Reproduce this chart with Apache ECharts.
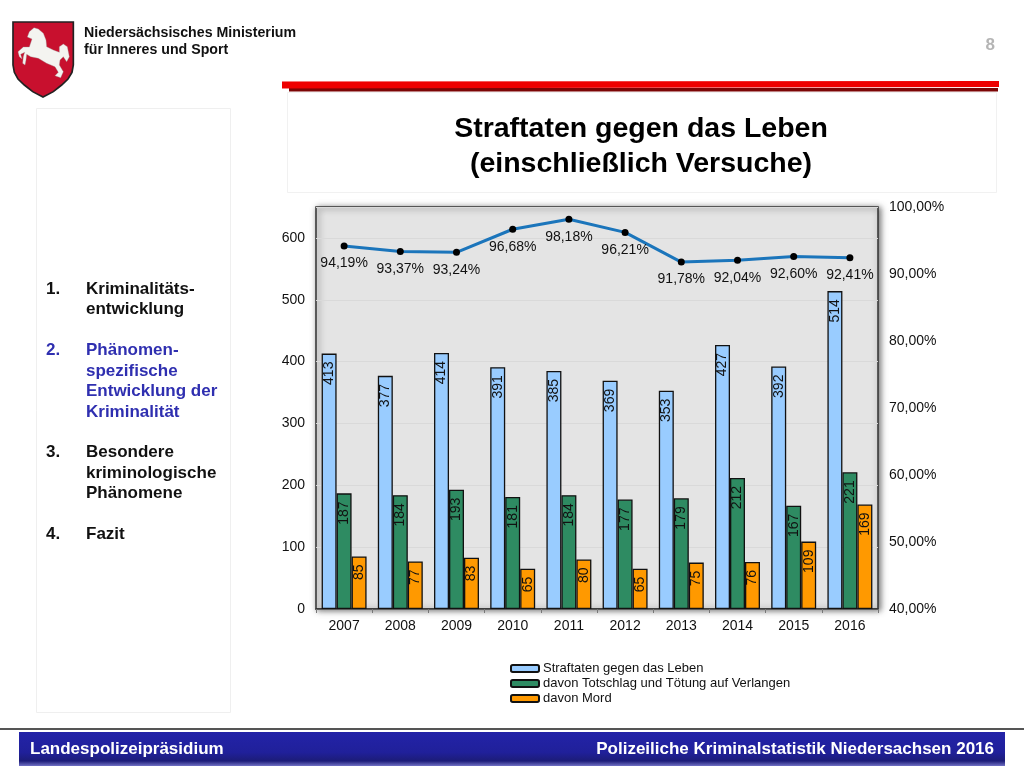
<!DOCTYPE html>
<html><head><meta charset="utf-8">
<style>html,body{margin:0;padding:0;background:#fff}#c{width:1024px;height:768px}</style>
<script src="https://cdn.jsdelivr.net/npm/echarts@6/dist/echarts.min.js"></script>
</head><body><div id="c"></div>
<script>
const years=['2007','2008','2009','2010','2011','2012','2013','2014','2015','2016'];
const leben=[413,377,414,391,385,369,353,427,392,514];
const totschlag=[187,184,193,181,184,177,179,212,167,221];
const mord=[85,77,83,65,80,65,75,76,109,169];
const quote=[94.19,93.37,93.24,96.68,98.18,96.21,91.78,92.04,92.60,92.41];
const seriesNames=['Straftaten gegen das Leben','davon Totschlag und Tötung auf Verlangen','davon Mord'];
const F='"Liberation Sans", Arial, sans-serif';
const pct=v=>v.toFixed(2).replace('.',',')+'%';
const bar=(name,data,color)=>({name,type:'bar',data,yAxisIndex:0,barGap:0,barCategoryGap:'20%',
  itemStyle:{color,borderColor:'#111',borderWidth:1.3},
  label:{show:true,position:'insideTop',distance:8,rotate:90,align:'right',verticalAlign:'middle',
    color:'#111',fontFamily:F,fontSize:14}});
const txt=(x,y,text,font,fill,align)=>({type:'text',x,y,silent:true,z:5,
  style:{text,font,fill:fill||'#111',align:align||'left',verticalAlign:'middle'}});
const SB='bold 17px '+F, BL='#2f2fb0';
const side=[[46,289,'1.',0],[86,289,'Kriminalitäts-',0],[86,309.5,'entwicklung',0],
 [46,350,'2.',1],[86,350,'Phänomen-',1],[86,371,'spezifische',1],[86,391,'Entwicklung der',1],[86,412,'Kriminalität',1],
 [46,452,'3.',0],[86,452,'Besondere',0],[86,473,'kriminologische',0],[86,493,'Phänomene',0],
 [46,534,'4.',0],[86,534,'Fazit',0]];
const shieldPts=[[9,21],[190,21],[190,150],[186,172],[174,192],[155,210],[130,230],[99,246],[68,230],[43,210],[24,192],[13,172],[9,150]];
const horsePts=[[52,66],[58,50],[72,38],[85,42],[100,55],[108,75],[110,95],[130,105],[148,112],[148,95],[160,87],[172,95],[178,125],[170,140],[160,125],[150,135],[148,150],[160,170],[152,188],[135,182],[145,172],[135,155],[110,145],[85,130],[62,125],[50,118],[48,135],[45,150],[38,145],[40,125],[44,112],[32,118],[36,132],[28,125],[24,110],[40,96],[58,96],[66,72]];
const chart=echarts.init(document.getElementById('c'),null,{renderer:'canvas'});
chart.setOption({
  animation:false,backgroundColor:'#fff',textStyle:{fontFamily:F},
  grid:{left:316,right:146,top:207,bottom:159,show:true,backgroundColor:'#e4e4e4',borderColor:'#333',borderWidth:1.5,
    shadowColor:'rgba(0,0,0,0.55)',shadowBlur:6,shadowOffsetX:2,shadowOffsetY:1},
  legend:{data:seriesNames,orient:'vertical',left:505,top:657,itemWidth:28,itemHeight:7,itemGap:2,selectedMode:false,
    textStyle:{fontFamily:F,fontSize:13,color:'#111',lineHeight:13,padding:[0,0,0,-1]}},
  xAxis:{type:'category',data:years,axisTick:{show:true,length:4,alignWithLabel:false,lineStyle:{color:'#777'}},
    axisLine:{lineStyle:{color:'#333',width:1.5}},
    axisLabel:{color:'#111',fontSize:14,fontFamily:F,margin:10}},
  yAxis:[
    {type:'value',min:0,max:650,interval:100,position:'left',axisLine:{show:false},axisTick:{show:false},
     axisLabel:{color:'#111',fontSize:14,fontFamily:F,margin:11,showMaxLabel:false},
     splitLine:{show:true,lineStyle:{color:'#d9d9d9',width:1}}},
    {type:'value',min:40,max:100,interval:10,position:'right',axisLine:{show:false},axisTick:{show:false},splitLine:{show:false},
     axisLabel:{color:'#111',fontSize:14,fontFamily:F,margin:11,formatter:pct}}
  ],
  series:[bar(seriesNames[0],leben,'#99ccff'),bar(seriesNames[1],totschlag,'#2e8b62'),bar(seriesNames[2],mord,'#ff9900'),
    {name:'Anteil',type:'line',yAxisIndex:1,data:quote,z:5,symbol:'circle',symbolSize:7,
     lineStyle:{color:'#1b75bb',width:3},itemStyle:{color:'#000'},
     label:{show:true,position:'bottom',distance:7,color:'#111',fontFamily:F,fontSize:14,formatter:p=>pct(p.value)}}],
  graphic:[
    {type:'rect',silent:true,z:-1,shape:{x:36.5,y:108.5,width:194,height:604},style:{fill:'#fff',stroke:'#efefef'}},
    {type:'rect',silent:true,z:-1,shape:{x:287.5,y:92.5,width:709,height:100},style:{fill:'#fff',stroke:'#f1f1f1'}},
    {type:'rect',silent:true,z:2,shape:{x:289,y:88,width:709,height:3.5},style:{fill:'#7c0505'}},
    {type:'polygon',silent:true,z:3,shape:{points:[[282,81.5],[999,81],[999,87],[282,88.5]]},style:{fill:'#ee0000'}},
    {type:'rect',silent:true,shape:{x:0,y:728,width:1024,height:2},style:{fill:'#555'}},
    {type:'rect',silent:true,shape:{x:19,y:732,width:986,height:34},style:{fill:new echarts.graphic.LinearGradient(0,0,0,1,[
      {offset:0,color:'#2323a8'},{offset:.6,color:'#20209a'},{offset:.85,color:'#1c1c78'},{offset:1,color:'#7070c4'}])}},
    txt(30,749,'Landespolizeipräsidium','bold 17px '+F,'#fff'),
    txt(994,749,'Polizeiliche Kriminalstatistik Niedersachsen 2016','bold 17px '+F,'#fff','right'),
    txt(641,129,'Straftaten gegen das Leben','bold 28.5px '+F,'#000','center'),
    txt(641,164,'(einschließlich Versuche)','bold 28.5px '+F,'#000','center'),
    txt(84,33,'Niedersächsisches Ministerium','bold 14.2px '+F,'#111'),
    txt(84,50,'für Inneres und Sport','bold 14.2px '+F,'#111'),
    txt(995,45,'8','bold 17px '+F,'#b5b5b5','right'),
    ...side.map(s=>txt(s[0],s[1],s[2],SB,s[3]?BL:'#111')),
    {type:'group',x:10,y:15,scaleX:1/3,scaleY:1/3,silent:true,children:[
      {type:'polygon',shape:{points:shieldPts},style:{fill:'#c8102e',stroke:'#222',lineWidth:5}},
      {type:'polygon',shape:{points:horsePts},style:{fill:'#f4f4f0',stroke:'#999',lineWidth:1}}
    ]}
  ]
});
</script></body></html>
